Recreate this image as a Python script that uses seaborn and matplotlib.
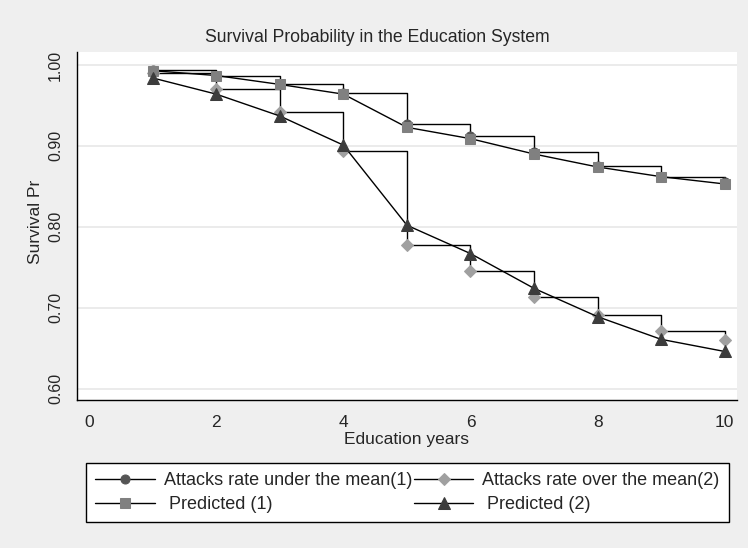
import matplotlib
matplotlib.use("Agg")
import matplotlib.pyplot as plt
import numpy as np
import pandas as pd
import seaborn as sns

years = [1, 2, 3, 4, 5, 6, 7, 8, 9, 10]
under_mean = [0.994, 0.987, 0.977, 0.965, 0.927, 0.912, 0.892, 0.875, 0.862, 0.855]
over_mean = [0.990, 0.970, 0.942, 0.894, 0.778, 0.745, 0.713, 0.691, 0.671, 0.660]
predicted_1 = [0.993, 0.987, 0.976, 0.964, 0.923, 0.909, 0.890, 0.874, 0.862, 0.853]
predicted_2 = [0.984, 0.964, 0.937, 0.901, 0.802, 0.767, 0.724, 0.689, 0.661, 0.646]

y_ticks = [0.60, 0.70, 0.80, 0.90, 1.00]
x_ticks = [0, 2, 4, 6, 8, 10]

df = pd.DataFrame({
    "years": years,
    "under": under_mean,
    "over": over_mean,
    "pred1": predicted_1,
    "pred2": predicted_2,
})

sns.set_style("white")
plt.rcParams["font.family"] = ["Liberation Sans", "DejaVu Sans"]

bg = "#efefef"
fig = plt.figure(figsize=(7.48, 5.48), dpi=100, facecolor=bg)
ax = fig.add_axes([0.103, 0.270, 0.882, 0.635])
ax.set_facecolor("white")

# observed survival: step curves, predicted: straight connected lines
sns.lineplot(data=df, x="years", y="under", ax=ax, drawstyle="steps-post",
             color="black", lw=1, marker="o", markersize=6.5,
             markerfacecolor="#555555", markeredgecolor="#555555",
             label="Attacks rate under the mean(1)")
sns.lineplot(data=df, x="years", y="over", ax=ax, drawstyle="steps-post",
             color="black", lw=1, marker="D", markersize=6,
             markerfacecolor="#a0a0a0", markeredgecolor="#a0a0a0",
             label="Attacks rate over the mean(2)")
sns.lineplot(data=df, x="years", y="pred1", ax=ax,
             color="black", lw=1, marker="s", markersize=7.5,
             markerfacecolor="#808080", markeredgecolor="#808080",
             label=" Predicted (1)")
sns.lineplot(data=df, x="years", y="pred2", ax=ax,
             color="black", lw=1, marker="^", markersize=8,
             markerfacecolor="#3c3c3c", markeredgecolor="#3c3c3c",
             label=" Predicted (2)")

ax.set_xlim(-0.19, 10.19)
ax.set_ylim(0.586, 1.016)
ax.set_xticks(x_ticks)
ax.set_yticks(y_ticks)
ax.set_yticklabels([f"{v:.2f}" for v in y_ticks], rotation=90, va="center")
ax.tick_params(axis="both", direction="out", length=6, width=1,
               color="black", pad=4)
ax.tick_params(axis="x", labelsize=12.5, pad=5)
ax.tick_params(axis="y", labelsize=11.5)
ax.grid(axis="y", color="#e8e8e8", lw=1.2)
ax.grid(axis="x", visible=False)
for side in ["top", "right"]:
    ax.spines[side].set_visible(False)
for side in ["left", "bottom"]:
    ax.spines[side].set_color("black")
    ax.spines[side].set_linewidth(1)

ax.set_xlabel("Education years", fontsize=12.5, labelpad=1)
ax.set_ylabel("Survival Pr", fontsize=12.5)
ax.yaxis.set_label_coords(-0.052, 0.511)

fig.text(0.505, 1 - 37 / 548, "Survival Probability in the Education System",
         ha="center", va="center", fontsize=12.7)

handles, labels = ax.get_legend_handles_labels()
order = [0, 2, 1, 3]
leg = fig.legend([handles[i] for i in order], [labels[i] for i in order],
                 ncol=2, loc="upper left", bbox_to_anchor=(86 / 748, 1 - 463 / 548),
                 borderaxespad=0,
                 frameon=True, fancybox=False, edgecolor="black",
                 facecolor="white", framealpha=1, fontsize=13,
                 handlelength=3.3, columnspacing=0.1, handletextpad=0.5,
                 borderpad=0.5, labelspacing=0.38)
leg.get_frame().set_linewidth(1)
ax.get_legend().remove()

fig.savefig("out.png", dpi=100, facecolor=bg)
